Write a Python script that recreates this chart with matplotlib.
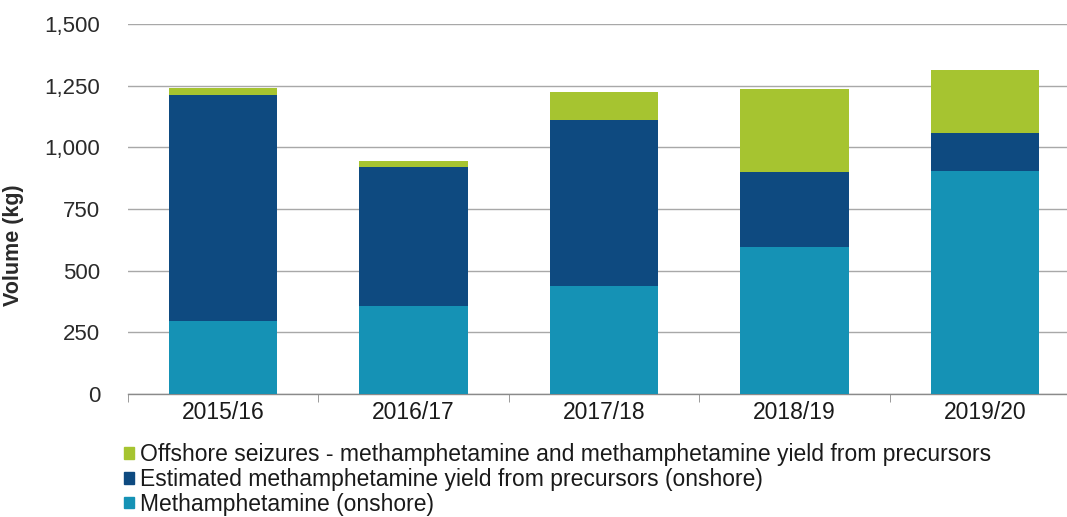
import matplotlib
matplotlib.use("Agg")
import matplotlib.pyplot as plt
import numpy as np
from matplotlib.patches import Patch

plt.rcParams['font.family'] = ['Liberation Sans', 'DejaVu Sans']

categories = ["2015/16", "2016/17", "2017/18", "2018/19", "2019/20"]
onshore = [294, 358, 438, 595, 905]
yield_onshore = [919, 562, 672, 307, 155]
offshore = [28, 23, 115, 336, 252]
yticks = [0, 250, 500, 750, 1000, 1250, 1500]
ytick_labels = ["0", "250", "500", "750", "1,000", "1,250", "1,500"]

labels = {
    "off": "Offshore seizures - methamphetamine and methamphetamine yield from precursors",
    "yld": "Estimated methamphetamine yield from precursors (onshore)",
    "on": "Methamphetamine (onshore)",
}
c_on = "#1592b5"
c_yld = "#0e4a80"
c_off = "#a6c430"

W, H = 1067, 517
fig = plt.figure(figsize=(W / 100, H / 100), dpi=100)
left, right = 128, 1080
bottom, top = 394, 24
ax = fig.add_axes([left / W, (H - bottom) / H, (right - left) / W, (bottom - top) / H])

x = np.arange(len(categories))
w = 0.57
on = np.array(onshore)
yl = np.array(yield_onshore)
off = np.array(offshore)
ax.bar(x, on, w, color=c_on, zorder=3)
ax.bar(x, yl, w, bottom=on, color=c_yld, zorder=3)
ax.bar(x, off, w, bottom=on + yl, color=c_off, zorder=3)

ax.set_xlim(-0.5, len(categories) - 0.5)
ax.set_ylim(0, 1500)
ax.set_yticks(yticks)
ax.set_yticklabels(ytick_labels)
ax.yaxis.grid(True, color="#a8a8a8", linewidth=1.0, zorder=0)
ax.set_axisbelow(True)
for s in ["top", "right", "left"]:
    ax.spines[s].set_visible(False)
ax.spines["bottom"].set_color("#8a8a8a")
ax.spines["bottom"].set_linewidth(1.0)
ax.tick_params(axis="y", length=0, labelsize=16, colors="#2a2a2a", pad=20)
ax.set_xticks(x)
ax.set_xticklabels(categories)
ax.tick_params(axis="x", which="major", length=0, labelsize=16.5, colors="#1a1a1a", pad=5)
ax.set_xticks(np.arange(-0.5, len(categories), 1.0), minor=True)
ax.tick_params(axis="x", which="minor", length=6, direction="out", color="#8a8a8a")
ax.set_ylabel("Volume (kg)", fontsize=15.5, fontweight="bold", color="#2a2a2a")
ax.yaxis.set_label_coords((24 - left) / (right - left), (bottom - 245) / (bottom - top))

handles = [Patch(color=c_off, label=labels["off"]),
           Patch(color=c_yld, label=labels["yld"]),
           Patch(color=c_on, label=labels["on"])]
fig.legend(handles=handles, loc="upper left", bbox_to_anchor=(124 / W, (H - 443) / H),
           frameon=False, fontsize=16.5, handlelength=0.42, handleheight=0.42,
           handletextpad=0.3, labelspacing=0.08, borderaxespad=0, borderpad=0,
           labelcolor="#1a1a1a")

fig.savefig("out.png", dpi=100)
